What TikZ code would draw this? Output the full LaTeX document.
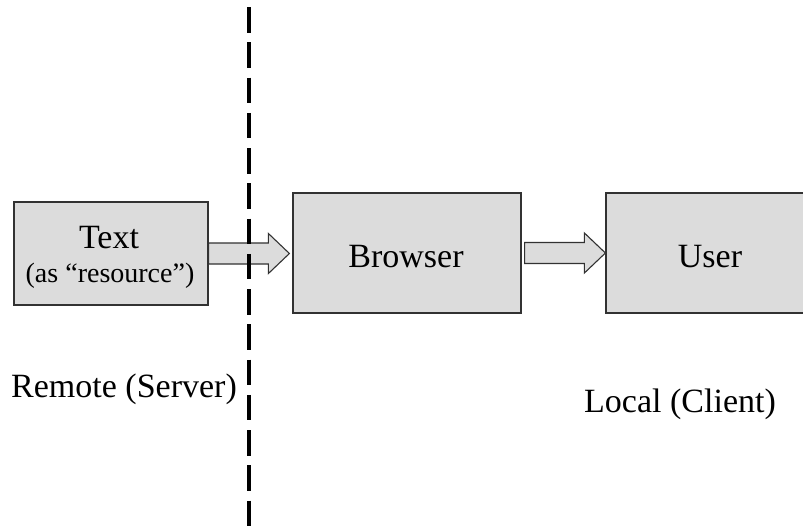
\documentclass[tikz,border=0pt]{standalone}
\usepackage{fontspec}
\setmainfont{Liberation Serif}
\usetikzlibrary{calc}
\definecolor{boxfill}{RGB}{220,220,220}
\definecolor{edgecol}{RGB}{50,50,50}
\newcommand\fatarrow[4]{%
  \draw[fat] let \p1=(#1.east), \p2=(#2.west) in
    (\x1+#3, \y1-10.5) -- (\x2-#4-21, \y1-10.5) -- (\x2-#4-21, \y1-20)
    -- (\x2-#4, \y1) -- (\x2-#4-21, \y1+20) -- (\x2-#4-21, \y1+10.5)
    -- (\x1+#3, \y1+10.5) -- cycle;}
\begin{document}
\begin{tikzpicture}[x=1pt,y=-1pt,
  box/.style={draw=edgecol, line width=1.2pt, fill=boxfill, inner sep=0pt},
  big/.style={font=\fontsize{34}{40}\selectfont, inner sep=0pt},
  small/.style={font=\fontsize{28}{32}\selectfont, inner sep=0pt},
  fat/.style={draw=edgecol, line width=1.1pt, fill=boxfill, line join=miter},
  divider/.style={line width=4.2pt, dash pattern=on 25.5pt off 9.75pt}]
\fill[white] (0,0) rectangle (803,525);
\useasboundingbox (0,0) rectangle (803,525);
% boxes
\node[box, minimum width=194, minimum height=103] (src) at (111,253.5) {};
\node[box, minimum width=228, minimum height=120] (browser) at (407,253) {};
\node[box, minimum width=300, minimum height=120] (user) at (756,253) {};
% box texts
\node[big, anchor=base] (srct) at (109,248) {Text};
\node[small, anchor=base] (srcs) at (110,282) {(as “resource”)};
\node[big, anchor=base] (bt) at (406,267) {Browser};
\node[big, anchor=base] (ut) at (710,267) {User};
% arrows
\fatarrow{src}{browser}{0}{3}
\fatarrow{browser}{user}{3}{0}
% side labels
\node[big, anchor=base west] (remote) at (11,397) {Remote (Server)};
\node[big, anchor=base west] (local) at (584,412) {Local (Client)};
% divider
\coordinate (dtop) at (249,7);
\coordinate (dbot) at (249,540);
\draw[divider] (dtop) -- (dbot);
\end{tikzpicture}
\end{document}
